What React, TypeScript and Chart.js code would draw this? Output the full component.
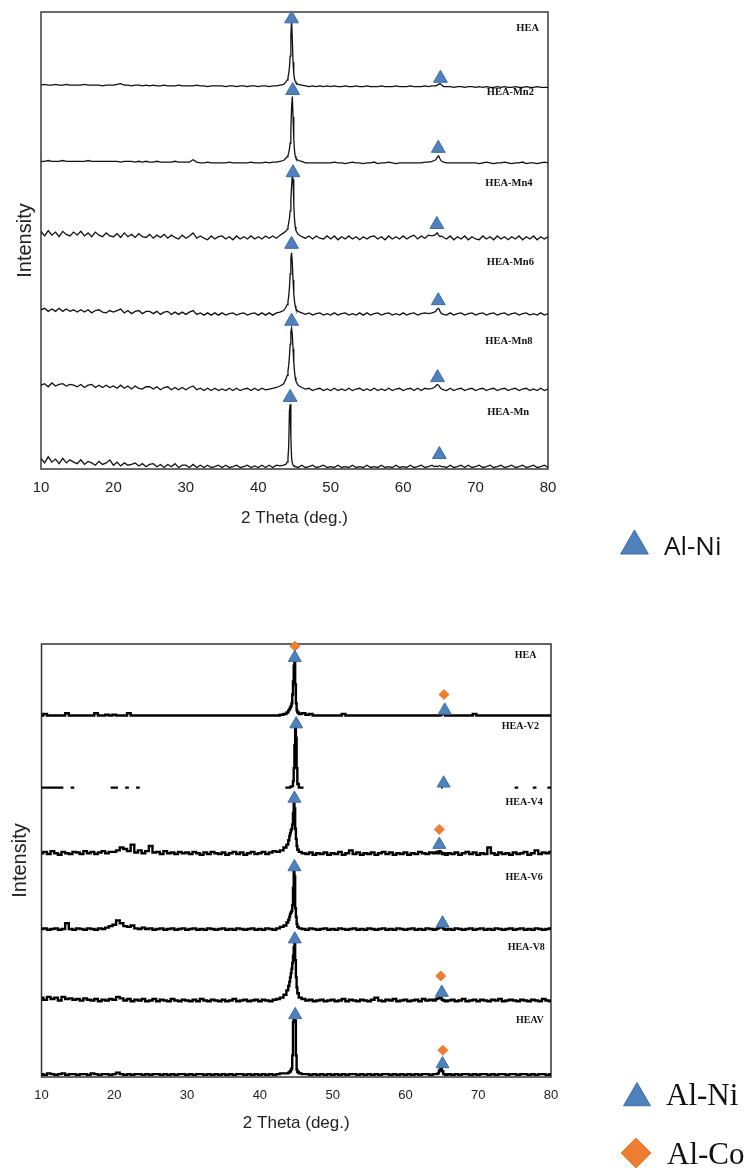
import React, { useEffect, useRef } from 'react';
import { Chart, registerables } from 'chart.js';

Chart.register(...registerables);

// ---------- shared 2-theta grid (deg.) ----------
const twoTheta: number[] = [
  10, 10.5, 11, 11.5, 12, 12.5, 13, 13.5, 14, 14.5,
  15, 15.5, 16, 16.5, 17, 17.5, 18, 18.5, 19, 19.5,
  20, 20.5, 21, 21.5, 22, 22.5, 23, 23.5, 24, 24.5,
  25, 25.5, 26, 26.5, 27, 27.5, 28, 28.5, 29, 29.5,
  30, 30.5, 31, 31.5, 32, 32.5, 33, 33.5, 34, 34.5,
  35, 35.5, 36, 36.5, 37, 37.5, 38, 38.5, 39, 39.5,
  40, 40.5, 41, 41.5, 42, 42.5, 43, 43.5,
  43.8, 44, 44.1, 44.2, 44.3, 44.4, 44.5, 44.6, 44.7, 44.8, 44.9, 45, 45.1, 45.2,
  45.5, 46, 46.5, 47, 47.5, 48, 48.5, 49, 49.5,
  50, 50.5, 51, 51.5, 52, 52.5, 53, 53.5, 54, 54.5,
  55, 55.5, 56, 56.5, 57, 57.5, 58, 58.5, 59, 59.5,
  60, 60.5, 61, 61.5, 62, 62.5, 63, 63.5, 64,
  64.3, 64.5, 64.7, 64.9, 65.1, 65.3, 65.6,
  66, 66.5, 67, 67.5, 68, 68.5, 69, 69.5,
  70, 70.5, 71, 71.5, 72, 72.5, 73, 73.5, 74, 74.5,
  75, 75.5, 76, 76.5, 77, 77.5, 78, 78.5, 79, 79.5, 80,
];

const xTickValues = [10, 20, 30, 40, 50, 60, 70, 80];

// ---------- top panel: Mn series (intensity in % of one row) ----------
const mnNames = ['HEA', 'HEA-Mn2', 'HEA-Mn4', 'HEA-Mn6', 'HEA-Mn8', 'HEA-Mn'];
const mnOffsets = [5, 4, 3, 2, 1, 0];
const mnLabelX = [77.2, 74.8, 74.6, 74.8, 74.6, 74.5];
const mnLabelY = [5.78, 4.94, 3.75, 2.72, 1.68, 0.74];

const mnHEA: number[] = [
  4, 5, 4, 4, 5, 4, 4, 5, 4, 4,
  4, 4, 5, 4, 4, 4, 4, 3, 4, 4,
  4, 5, 6, 4, 4, 3, 4, 4, 3, 4,
  3, 4, 3, 3, 4, 3, 3, 3, 4, 3,
  3, 3, 3, 4, 3, 3, 2, 3, 3, 3,
  3, 2, 3, 3, 2, 3, 3, 2, 3, 3,
  2, 3, 3, 2, 3, 3, 4, 5,
  8, 11, 14, 19, 27, 42, 70, 88, 64, 34, 19, 12, 9, 7,
  5, 4, 3, 2, 3, 2, 3, 2, 3,
  2, 3, 2, 2, 3, 2, 2, 3, 2, 2,
  3, 2, 2, 2, 3, 2, 2, 2, 3, 2,
  2, 2, 3, 2, 2, 2, 3, 2, 3,
  3, 3, 4, 5, 6, 4, 2,
  2, 2, 1, 2, 2, 1, 2, 2,
  1, 2, 1, 2, 1, 1, 2, 1, 2, 1,
  1, 2, 1, 1, 2, 1, 1, 2, 1, 1, 1,
];
const mnMn2: number[] = [
  4, 4, 5, 4, 4, 4, 5, 4, 4, 4,
  4, 4, 4, 5, 4, 4, 4, 4, 4, 4,
  4, 4, 3, 4, 4, 4, 3, 4, 3, 4,
  3, 3, 4, 3, 3, 3, 3, 4, 3, 3,
  3, 3, 6, 3, 2, 2, 3, 2, 2, 2,
  2, 2, 3, 2, 2, 2, 2, 2, 3, 2,
  2, 2, 3, 2, 3, 3, 4, 5,
  8, 10, 12, 15, 20, 28, 47, 75, 89, 62, 33, 18, 11, 8,
  5, 4, 2, 2, 2, 2, 2, 2, 2,
  2, 3, 2, 2, 1, 2, 3, 2, 2, 1,
  2, 2, 3, 1, 2, 2, 3, 2, 1, 2,
  2, 2, 2, 2, 2, 2, 3, 3, 4,
  5, 6, 9, 11, 7, 4, 3,
  2, 2, 2, 2, 2, 2, 2, 2,
  2, 1, 2, 3, 2, 1, 2, 2, 3, 2,
  1, 2, 2, 3, 1, 2, 2, 1, 2, 3, 2,
];
const mnMn4: number[] = [
  12, 6, 13, 7, 11, 5, 12, 8, 6, 11,
  7, 12, 6, 10, 5, 11, 7, 5, 10, 6,
  5, 9, 4, 10, 5, 8, 4, 9, 5, 4,
  8, 3, 7, 4, 8, 3, 7, 4, 2, 7,
  3, 6, 10, 3, 6, 3, 1, 6, 2, 5,
  6, 2, 5, 1, 6, 2, 5, 2, 6, 2,
  5, 2, 6, 3, 6, 3, 7, 10,
  12, 15, 18, 23, 29, 39, 54, 72, 86, 80, 48, 28, 18, 13,
  8, 5, 3, 6, 2, 6, 3, 2, 6,
  2, 6, 1, 5, 2, 6, 2, 5, 1, 5,
  2, 5, 6, 2, 5, 1, 6, 2, 5, 2,
  6, 2, 5, 7, 2, 6, 3, 7, 6,
  7, 8, 10, 7, 5, 6, 4,
  2, 6, 1, 5, 2, 6, 1, 5,
  2, 1, 6, 2, 5, 1, 6, 2, 5, 1,
  5, 2, 6, 1, 5, 2, 6, 1, 5, 2, 5,
];
const mnMn6: number[] = [
  9, 11, 7, 10, 7, 11, 7, 10, 7, 9,
  6, 9, 6, 9, 5, 8, 9, 6, 5, 8,
  6, 8, 10, 5, 8, 4, 7, 8, 4, 7,
  7, 4, 7, 3, 6, 7, 3, 6, 3, 6,
  3, 6, 8, 3, 5, 2, 5, 2, 5, 2,
  5, 2, 4, 5, 2, 4, 5, 2, 4, 5,
  2, 5, 2, 5, 2, 5, 6, 8,
  12, 16, 20, 27, 38, 56, 76, 84, 70, 48, 30, 20, 14, 10,
  7, 5, 3, 5, 2, 4, 5, 2, 4,
  2, 5, 2, 4, 5, 2, 4, 2, 5, 2,
  5, 2, 4, 5, 2, 4, 5, 2, 4, 2,
  5, 2, 4, 5, 2, 4, 5, 4, 5,
  6, 7, 10, 11, 7, 4, 3,
  2, 5, 2, 4, 5, 2, 4, 5,
  2, 4, 5, 2, 4, 5, 2, 4, 5, 2,
  4, 5, 2, 4, 5, 2, 4, 2, 5, 2, 4,
];
const mnMn8: number[] = [
  10, 12, 8, 13, 9, 11, 12, 9, 11, 10,
  8, 11, 7, 10, 11, 7, 10, 7, 10, 7,
  9, 6, 10, 6, 9, 5, 9, 6, 5, 8,
  8, 5, 8, 4, 7, 8, 4, 7, 4, 7,
  4, 7, 9, 4, 6, 3, 6, 3, 6, 3,
  5, 3, 6, 3, 6, 3, 5, 6, 3, 6,
  3, 6, 4, 5, 6, 7, 9, 12,
  18, 23, 29, 36, 48, 64, 80, 85, 76, 58, 40, 28, 20, 15,
  10, 7, 5, 6, 3, 5, 6, 3, 5,
  3, 6, 3, 5, 3, 6, 3, 5, 6, 3,
  5, 3, 6, 3, 5, 3, 6, 3, 5, 6,
  3, 5, 6, 3, 6, 3, 6, 5, 6,
  7, 9, 11, 10, 7, 5, 4,
  3, 6, 3, 5, 6, 3, 5, 6,
  3, 5, 6, 3, 5, 6, 3, 5, 6, 3,
  5, 6, 3, 5, 6, 3, 5, 3, 6, 3, 5,
];
const mnMn: number[] = [
  14, 8, 16, 9, 13, 7, 14, 8, 12, 9,
  7, 12, 6, 10, 8, 5, 10, 6, 8, 12,
  5, 9, 4, 8, 5, 6, 8, 4, 7, 3,
  6, 7, 3, 6, 2, 6, 3, 7, 2, 5,
  5, 2, 6, 2, 5, 2, 5, 2, 3, 5,
  2, 5, 2, 3, 5, 2, 3, 5, 2, 4,
  2, 5, 2, 5, 2, 5, 4, 5,
  6, 9, 14, 30, 76, 85, 40, 14, 8, 5, 4, 4, 3, 3,
  2, 5, 2, 3, 5, 2, 3, 5, 2,
  3, 2, 5, 2, 3, 2, 5, 2, 3, 2,
  5, 2, 3, 2, 5, 2, 3, 2, 5, 2,
  3, 2, 5, 2, 3, 5, 2, 3, 5,
  3, 4, 3, 4, 4, 3, 3,
  2, 5, 2, 3, 5, 2, 5, 2,
  3, 5, 2, 3, 5, 2, 3, 5, 2, 3,
  5, 2, 3, 5, 2, 3, 5, 2, 3, 5, 2,
];

const mnAlNiX = [44.6, 65.15, 44.75, 64.85, 44.8, 64.65, 44.6, 64.85, 44.6, 64.75, 44.4, 65.0];
const mnAlNiY = [5.91, 5.13, 4.97, 4.21, 3.89, 3.21, 2.95, 2.21, 1.94, 1.2, 0.94, 0.19];

// ---------- bottom panel: V series ----------
const vNames = ['HEA', 'HEA-V2', 'HEA-V4', 'HEA-V6', 'HEA-V8', 'HEAV'];
const vOffsets = [5, 4, 3, 2, 1, 0];
const vLabelX = [76.5, 75.8, 76.3, 76.3, 76.6, 77.1];
const vLabelY = [5.84, 4.86, 3.8, 2.77, 1.79, 0.79];

const vHEA: (number | null)[] = [
  1, 3, 1, 1, 1, 1, 1, 4, 1, 1,
  1, 1, 1, 1, 1, 4, 1, 1, 2, 1,
  2, 1, 1, 1, 4, 1, 1, 1, 1, 1,
  1, 1, 1, 1, 1, 1, 1, 1, 1, 1,
  1, 1, 1, 1, 1, 1, 1, 1, 1, 1,
  1, 1, 1, 1, 1, 1, 1, 1, 1, 1,
  1, 1, 1, 1, 1, 1, 2, 3,
  5, 8, 10, 12, 14, 18, 30, 48, 70, 78, 44, 18, 8, 5,
  3, 4, 2, 3, 1, 1, 1, 1, 1,
  1, 1, 1, 3, 1, 1, 1, 1, 1, 1,
  1, 1, 1, 1, 1, 1, 1, 1, 1, 1,
  1, 1, 1, 1, 1, 1, 1, 1, 1,
  1, 1, 1, 2, 3, 3, 1,
  1, 1, 1, 1, 1, 1, 1, 3,
  1, 1, 1, 1, 1, 1, 1, 1, 1, 1,
  1, 1, 1, 1, 1, 1, 1, 1, 1, 1, 1,
];
const vV2: (number | null)[] = [
  1, 1, 1, 1, 1, 1, 1, null, 1, 1,
  null, null, null, null, null, null, null, null, null, 1,
  1, 1, null, 1, 1, null, 1, 1, null, null,
  null, null, null, null, null, null, null, null, null, null,
  null, null, null, null, null, null, null, null, null, null,
  null, null, null, null, null, null, null, null, null, null,
  null, null, null, null, null, null, null, 1,
  1, 1, 1, 2, 2, 3, 3, 10, 28, 60, 84, 70, 28, 6,
  1, 1, null, null, null, null, null, null, null,
  null, null, null, null, null, null, null, null, null, null,
  null, null, null, null, null, null, null, null, null, null,
  null, null, null, null, null, null, null, null, null,
  null, null, null, 1, 1, null, null,
  null, null, null, null, null, null, null, null,
  null, null, null, null, null, null, null, null, null, null,
  1, 1, null, null, null, 1, 1, null, null, 1, 1,
];
const vV4: (number | null)[] = [
  10, 12, 9, 13, 10, 8, 12, 10, 9, 12,
  11, 9, 13, 10, 12, 9, 11, 13, 10, 12,
  12, 14, 18, 16, 13, 22, 11, 14, 10, 13,
  20, 11, 12, 9, 13, 10, 11, 9, 12, 10,
  11, 9, 12, 10, 8, 11, 9, 12, 10, 9,
  11, 8, 10, 12, 9, 11, 8, 10, 12, 9,
  10, 12, 9, 11, 13, 12, 14, 18,
  22, 28, 34, 38, 42, 44, 50, 66, 79, 72, 44, 30, 20, 15,
  12, 10, 9, 11, 8, 10, 9, 11, 8,
  10, 9, 12, 8, 10, 14, 9, 11, 8, 10,
  9, 11, 8, 10, 12, 9, 11, 8, 10, 9,
  11, 8, 10, 9, 12, 10, 9, 11, 10,
  12, 10, 13, 11, 9, 10, 8,
  10, 9, 11, 8, 10, 12, 9, 11,
  8, 10, 9, 18, 10, 8, 11, 9, 10, 8,
  11, 9, 10, 12, 8, 10, 14, 9, 11, 10, 12,
];
const vV6: (number | null)[] = [
  5, 6, 4, 5, 6, 4, 5, 13, 5, 4,
  6, 5, 4, 6, 5, 4, 6, 5, 7, 9,
  11, 17, 13, 9, 8, 10, 6, 5, 7, 5,
  6, 4, 5, 6, 4, 5, 6, 4, 5, 6,
  4, 5, 6, 4, 5, 4, 6, 5, 4, 5,
  6, 4, 5, 4, 6, 5, 4, 5, 6, 4,
  5, 4, 6, 5, 4, 6, 8, 10,
  14, 18, 22, 26, 28, 30, 38, 62, 85, 78, 34, 22, 12, 8,
  6, 5, 4, 6, 5, 4, 5, 6, 4,
  5, 4, 6, 5, 4, 5, 6, 4, 5, 4,
  6, 5, 4, 5, 6, 4, 5, 4, 6, 5,
  4, 5, 6, 4, 5, 4, 6, 5, 4,
  5, 6, 7, 8, 7, 5, 4,
  5, 4, 6, 5, 4, 5, 6, 4,
  5, 6, 4, 5, 4, 6, 5, 4, 5, 6,
  4, 5, 6, 4, 5, 4, 6, 5, 4, 5, 6,
];
const vV8: (number | null)[] = [
  10, 7, 11, 8, 10, 6, 11, 8, 9, 7,
  8, 6, 9, 7, 6, 8, 5, 7, 6, 8,
  7, 11, 9, 6, 8, 5, 7, 6, 8, 5,
  6, 8, 5, 7, 6, 5, 8, 6, 5, 7,
  6, 5, 7, 5, 8, 6, 5, 7, 6, 5,
  7, 5, 6, 8, 5, 6, 7, 5, 6, 7,
  5, 7, 6, 5, 7, 8, 10, 14,
  20, 26, 32, 38, 44, 50, 58, 68, 80, 84, 62, 38, 24, 16,
  10, 8, 6, 7, 5, 6, 7, 5, 6,
  7, 5, 6, 8, 5, 7, 6, 5, 7, 6,
  5, 7, 10, 6, 5, 7, 6, 8, 5, 6,
  7, 5, 6, 7, 5, 8, 6, 7, 6,
  8, 9, 10, 9, 7, 6, 5,
  6, 7, 5, 6, 8, 5, 6, 7,
  5, 7, 6, 5, 7, 6, 8, 5, 6, 7,
  6, 5, 7, 6, 5, 7, 6, 5, 8, 6, 5,
];
const vHEAV: (number | null)[] = [
  4, 3, 5, 4, 3, 4, 5, 3, 4, 4,
  3, 4, 4, 3, 5, 4, 3, 4, 4, 3,
  4, 6, 4, 3, 4, 3, 4, 4, 3, 4,
  3, 4, 4, 3, 4, 3, 4, 3, 4, 4,
  3, 4, 3, 4, 4, 3, 4, 3, 4, 3,
  4, 3, 4, 3, 4, 4, 3, 4, 3, 4,
  3, 4, 3, 4, 3, 4, 5, 5,
  5, 6, 7, 8, 10, 12, 30, 76, 79, 79, 78, 30, 10, 7,
  5, 4, 4, 3, 4, 3, 4, 3, 4,
  3, 4, 3, 4, 3, 4, 4, 3, 4, 3,
  4, 3, 4, 3, 4, 4, 3, 4, 3, 4,
  3, 4, 3, 4, 3, 4, 4, 3, 4,
  4, 5, 9, 13, 8, 4, 3,
  4, 3, 4, 3, 4, 4, 3, 4,
  3, 4, 4, 3, 4, 3, 4, 4, 3, 4,
  4, 3, 4, 4, 3, 4, 3, 4, 4, 3, 4,
];

const vAlNiX = [44.8, 65.4, 45.0, 65.25, 44.75, 64.65, 44.75, 65.1, 44.8, 65.0, 44.85, 65.1];
const vAlNiY = [5.81, 5.08, 4.89, 4.07, 3.86, 3.22, 2.91, 2.13, 1.91, 1.17, 0.86, 0.18];
const vAlCoX = [44.8, 65.3, 64.65, 64.85, 65.15];
const vAlCoY = [5.97, 5.3, 3.43, 1.4, 0.37];

const legendTopLabels = ['Al-Ni'];
const legendBottomLabels = ['Al-Ni', 'Al-Co'];

// ---------- styling ----------
const BLUE = '#4F81BD';
const BLUE_EDGE = '#3D6DA6';
const ORANGE = '#ED7D31';

type LegendItem = { shape: 'triangle' | 'diamond'; x: number; y: number; r: number; text: string; tx: number; ty: number; fill: string; stroke: string };

type PanelSpec = {
  traces: (number | null)[][];
  offsets: number[];
  names: string[];
  labelX: number[];
  labelY: number[];
  alNiX: number[];
  alNiY: number[];
  alCoX?: number[];
  alCoY?: number[];
  triR: number;
  lineWidth: number;
  lineColor: string;
  stepped: any;
  padding: { top: number; right: number; bottom: number; left: number };
  yAxisWidth: number;
  xAxisHeight: number;
  tickSize: number;
  tickPad: number;
  xTitlePadBottom: number;
  yTitlePadTop: number;
  nameFont: string;
  frameColor: string;
  frameWidth: number;
  legendFont: string;
  legend: LegendItem[];
};

function drawShape(ctx: CanvasRenderingContext2D, shape: string, x: number, y: number, r: number) {
  ctx.beginPath();
  if (shape === 'triangle') {
    const s = Math.sin((2 * Math.PI) / 3) * r;
    ctx.moveTo(x, y - r);
    ctx.lineTo(x + s, y + r / 2);
    ctx.lineTo(x - s, y + r / 2);
  } else {
    ctx.moveTo(x - r, y);
    ctx.lineTo(x, y - r);
    ctx.lineTo(x + r, y);
    ctx.lineTo(x, y + r);
  }
  ctx.closePath();
}

function panelPlugin(s: PanelSpec) {
  return {
    id: 'panelDecor',
    beforeDatasetsDraw(chart: any) {
      const { ctx, chartArea: a } = chart;
      ctx.save();
      ctx.strokeStyle = s.frameColor;
      ctx.lineWidth = s.frameWidth;
      ctx.strokeRect(a.left, a.top, a.right - a.left, a.bottom - a.top);
      ctx.restore();
    },
    afterDraw(chart: any) {
      const { ctx, scales } = chart;
      const xs = scales.x;
      const ys = scales.y;
      ctx.save();
      ctx.font = s.nameFont;
      ctx.fillStyle = '#111';
      ctx.textAlign = 'center';
      ctx.textBaseline = 'middle';
      s.names.forEach((n, i) => {
        ctx.fillText(n, xs.getPixelForValue(s.labelX[i]), ys.getPixelForValue(s.labelY[i]));
      });
      s.legend.forEach((it) => {
        drawShape(ctx, it.shape, it.x, it.y, it.r);
        ctx.fillStyle = it.fill;
        ctx.fill();
        ctx.lineWidth = 1;
        ctx.strokeStyle = it.stroke;
        ctx.stroke();
        ctx.fillStyle = '#111';
        ctx.font = s.legendFont;
        ctx.textAlign = 'left';
        ctx.textBaseline = 'alphabetic';
        ctx.fillText(it.text, it.tx, it.ty);
      });
      ctx.restore();
    },
  };
}

function buildConfig(s: PanelSpec): any {
  const datasets: any[] = [];
  datasets.push({
    type: 'scatter',
    label: 'Al-Ni',
    data: s.alNiX.map((x, i) => ({ x, y: s.alNiY[i] })),
    pointStyle: 'triangle',
    pointRadius: s.triR,
    pointHoverRadius: s.triR,
    backgroundColor: BLUE,
    borderColor: BLUE_EDGE,
    borderWidth: 1,
    showLine: false,
    clip: false,
    order: 0,
  });
  if (s.alCoX && s.alCoY) {
    const cy = s.alCoY;
    datasets.push({
      type: 'scatter',
      label: 'Al-Co',
      data: s.alCoX.map((x, i) => ({ x, y: cy[i] })),
      pointStyle: 'rectRot',
      pointRadius: 5,
      pointHoverRadius: 5,
      backgroundColor: ORANGE,
      borderColor: ORANGE,
      borderWidth: 1,
      showLine: false,
      clip: false,
      order: 0,
    });
  }
  s.traces.forEach((vals, k) => {
    datasets.push({
      type: 'line',
      label: s.names[k],
      data: twoTheta.map((t, i) => {
        const v = vals[i];
        return { x: t, y: v == null ? null : s.offsets[k] + v / 100 };
      }),
      borderColor: s.lineColor,
      borderWidth: s.lineWidth,
      pointRadius: 0,
      fill: false,
      tension: 0,
      stepped: s.stepped,
      spanGaps: false,
      order: 1,
    });
  });

  return {
    type: 'line',
    data: { datasets },
    options: {
      animation: false,
      responsive: false,
      devicePixelRatio: 1,
      events: [],
      layout: { padding: s.padding },
      plugins: { legend: { display: false }, tooltip: { enabled: false } },
      scales: {
        x: {
          type: 'linear',
          position: 'bottom',
          min: 10,
          max: 80,
          grid: { display: false, drawTicks: false },
          border: { display: false },
          afterBuildTicks: (ax: any) => {
            ax.ticks = xTickValues.map((v) => ({ value: v }));
          },
          afterFit: (ax: any) => {
            ax.height = s.xAxisHeight;
            ax.paddingLeft = 0;
            ax.paddingRight = 0;
            ax.paddingTop = 0;
            ax.paddingBottom = 0;
          },
          ticks: {
            font: { family: 'Liberation Sans', size: s.tickSize },
            color: '#222',
            padding: s.tickPad,
            maxRotation: 0,
            autoSkip: false,
          },
          title: {
            display: true,
            text: '2 Theta (deg.)',
            font: { family: 'Liberation Sans', size: 17 },
            color: '#222',
            padding: { top: 0, bottom: s.xTitlePadBottom },
          },
        },
        y: {
          type: 'linear',
          position: 'left',
          min: 0,
          max: 6,
          grid: { display: false, drawTicks: false },
          border: { display: false },
          ticks: { display: false },
          afterFit: (ax: any) => {
            ax.width = s.yAxisWidth;
            ax.paddingTop = 0;
            ax.paddingBottom = 0;
          },
          title: {
            display: true,
            text: 'Intensity',
            font: { family: 'Liberation Sans', size: 20 },
            color: '#222',
            padding: { top: s.yTitlePadTop, bottom: 0 },
          },
        },
      },
    },
    plugins: [panelPlugin(s)],
  };
}

const topSpec: PanelSpec = {
  traces: [mnHEA, mnMn2, mnMn4, mnMn6, mnMn8, mnMn],
  offsets: mnOffsets,
  names: mnNames,
  labelX: mnLabelX,
  labelY: mnLabelY,
  alNiX: mnAlNiX,
  alNiY: mnAlNiY,
  triR: 8,
  lineWidth: 1.3,
  lineColor: '#111',
  stepped: false,
  padding: { top: 12, right: 200, bottom: 71, left: 0 },
  yAxisWidth: 41,
  xAxisHeight: 60,
  tickSize: 15,
  tickPad: 10,
  xTitlePadBottom: 0,
  yTitlePadTop: 13,
  nameFont: "bold 10.5px 'Liberation Serif'",
  frameColor: '#3a3a3a',
  frameWidth: 1.5,
  legendFont: "26px 'Open Sans'",
  legend: [
    { shape: 'triangle', x: 634.5, y: 546, r: 16, text: legendTopLabels[0], tx: 664, ty: 555, fill: BLUE, stroke: BLUE_EDGE },
  ],
};

const bottomSpec: PanelSpec = {
  traces: [vHEA, vV2, vV4, vV6, vV8, vHEAV],
  offsets: vOffsets,
  names: vNames,
  labelX: vLabelX,
  labelY: vLabelY,
  alNiX: vAlNiX,
  alNiY: vAlNiY,
  alCoX: vAlCoX,
  alCoY: vAlCoY,
  triR: 7.5,
  lineWidth: 2.4,
  lineColor: '#000',
  stepped: 'middle',
  padding: { top: 44, right: 197, bottom: 31, left: 0 },
  yAxisWidth: 41.5,
  xAxisHeight: 60,
  tickSize: 13,
  tickPad: 11,
  xTitlePadBottom: 3,
  yTitlePadTop: 8,
  nameFont: "bold 10px 'Liberation Serif'",
  frameColor: '#333',
  frameWidth: 1.5,
  legendFont: "31px 'Liberation Serif'",
  legend: [
    { shape: 'triangle', x: 637, y: 498, r: 15.5, text: legendBottomLabels[0], tx: 666, ty: 505, fill: BLUE, stroke: BLUE_EDGE },
    { shape: 'diamond', x: 636, y: 553, r: 15, text: legendBottomLabels[1], tx: 667, ty: 564, fill: ORANGE, stroke: ORANGE },
  ],
};

function Panel({ spec, top, height }: { spec: PanelSpec; top: number; height: number }) {
  const ref = useRef<HTMLCanvasElement | null>(null);
  useEffect(() => {
    if (!ref.current) return;
    const chart = new Chart(ref.current, buildConfig(spec));
    return () => chart.destroy();
  }, [spec]);
  return (
    <canvas
      ref={ref}
      width={748}
      height={height}
      style={{ position: 'absolute', left: 0, top, width: 748, height, display: 'block' }}
    />
  );
}

export default function App() {
  return (
    <div style={{ position: 'absolute', left: 0, top: 0, width: 748, height: 1168, background: '#fff', overflow: 'hidden' }}>
      <Panel spec={topSpec} top={0} height={600} />
      <Panel spec={bottomSpec} top={600} height={568} />
    </div>
  );
}
